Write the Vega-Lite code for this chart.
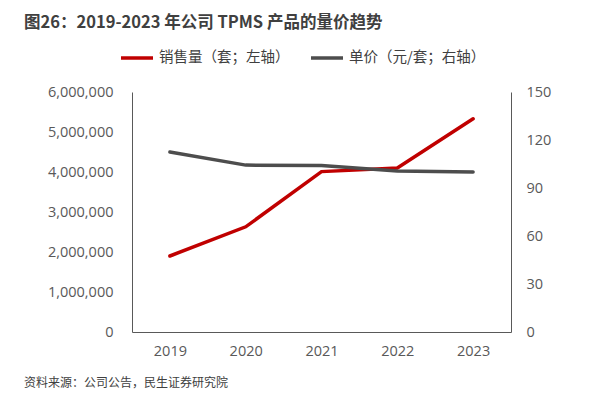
{
  "$schema": "https://vega.github.io/schema/vega-lite/v6.json",
  "width": 379,
  "height": 240,
  "autosize": {"type": "none"},
  "padding": {"left": 132, "top": 92, "right": 95, "bottom": 62},
  "background": "white",
  "config": {
    "view": {"stroke": null},
    "font": "Noto Sans CJK SC"
  },
  "data": {
    "values": [
      {"year": "2019", "sales": 1900000, "price": 112.5},
      {"year": "2020", "sales": 2630000, "price": 104.3},
      {"year": "2021", "sales": 4010000, "price": 104.0},
      {"year": "2022", "sales": 4100000, "price": 100.6},
      {"year": "2023", "sales": 5330000, "price": 100.0}
    ]
  },
  "layer": [
    {
      "mark": {"type": "line", "strokeWidth": 3.5, "strokeCap": "round"},
      "encoding": {
        "x": {
          "field": "year", "type": "ordinal",
          "scale": {"paddingInner": 0, "paddingOuter": 0.5},
          "axis": {"title": null, "labelAngle": 0, "ticks": false, "domainColor": "#595959", "domainWidth": 1, "labelColor": "#595959", "labelFontSize": 14.5, "labelPadding": 12, "labelFont": "Open Sans"}
        },
        "y": {
          "field": "sales", "type": "quantitative",
          "scale": {"domain": [0, 6000000]},
          "axis": {"title": null, "grid": false, "ticks": false, "tickCount": 6, "format": ",d", "domainColor": "#595959", "labelColor": "#595959", "labelFontSize": 14.5, "labelPadding": 19, "labelFont": "Open Sans"}
        },
        "color": {
          "datum": "销售量（套；左轴）", "type": "nominal",
          "scale": {"domain": ["销售量（套；左轴）", "单价（元/套；右轴）"], "range": ["#C00000", "#4D4D4D"]},
          "legend": {
            "orient": "none", "direction": "horizontal", "title": null,
            "legendX": -13, "legendY": -52,
            "symbolType": "stroke", "symbolSize": 1024, "symbolStrokeWidth": 3.5,
            "labelFontSize": 14.5, "labelColor": "#404040", "labelOffset": 4, "columnPadding": 14, "labelLimit": 300
          }
        }
      }
    },
    {
      "mark": {"type": "line", "strokeWidth": 3.5, "strokeCap": "round"},
      "encoding": {
        "x": {"field": "year", "type": "ordinal"},
        "y": {
          "field": "price", "type": "quantitative",
          "scale": {"domain": [0, 150]},
          "axis": {"orient": "right", "title": null, "grid": false, "ticks": false, "values": [0, 30, 60, 90, 120, 150], "domainColor": "#595959", "labelColor": "#595959", "labelFontSize": 14.5, "labelPadding": 15, "labelFont": "Open Sans"}
        },
        "color": {"datum": "单价（元/套；右轴）", "type": "nominal"}
      }
    },
    {
      "data": {"values": [{"src": "资料来源：公司公告，民生证券研究院"}]},
      "mark": {"type": "text", "align": "left", "baseline": "middle", "fontSize": 12, "color": "#404040"},
      "encoding": {
        "text": {"field": "src"},
        "x": {"value": -108},
        "y": {"value": 291}
      }
    }
  ],
  "resolve": {"scale": {"y": "independent"}},
  "title": {
    "text": "图26：2019-2023 年公司 TPMS 产品的量价趋势",
    "anchor": "start",
    "frame": "group",
    "orient": "top",
    "fontSize": 16.5,
    "fontWeight": "bold",
    "color": "#404040",
    "dx": -108,
    "offset": 9
  }
}
